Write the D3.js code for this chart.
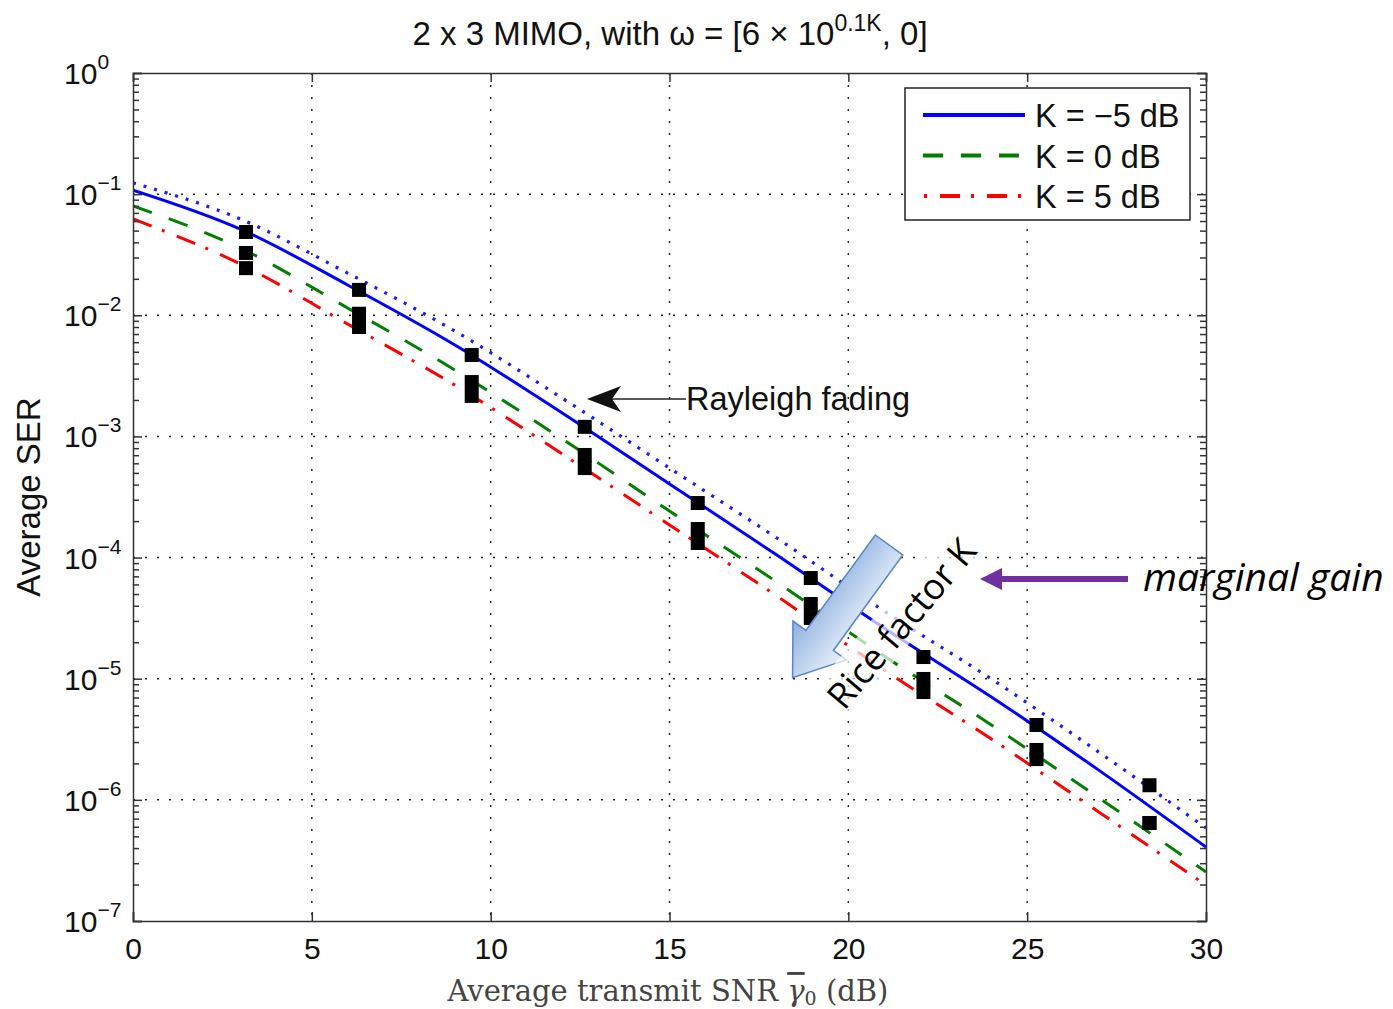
<!DOCTYPE html>
<meta charset="utf-8">
<head>
  <style>
    body { margin: 0; background: #fff; }
    text { font-family: 'Liberation Sans', Arial, sans-serif; fill: #111; }
  </style>
  <script src="https://d3js.org/d3.v7.min.js"></script>
</head>
<body>
  <div id="my_dataviz"></div>
  <script>

    // Analytical curves
    const snr = [0, 3, 6, 9, 12, 15, 18, 21, 24, 27, 30];
    const serKm5 = [1.08e-1, 5.15e-2, 1.78e-2, 5.69e-3, 1.56e-3, 4.05e-4, 1.05e-4, 2.62e-5, 7.06e-6, 1.76e-6, 4.08e-7];
    const serK0 = [7.98e-2, 3.59e-2, 1.15e-2, 3.53e-3, 9.53e-4, 2.42e-4, 6.28e-5, 1.54e-5, 4.15e-6, 1.04e-6, 2.54e-7];
    const serK5 = [6.24e-2, 2.65e-2, 8.47e-3, 2.65e-3, 7.16e-4, 1.86e-4, 4.82e-5, 1.18e-5, 3.18e-6, 7.94e-7, 1.98e-7];
    const serRayleigh = [1.24e-1, 6.24e-2, 2.23e-2, 7.41e-3, 2.07e-3, 5.48e-4, 1.45e-4, 3.62e-5, 9.95e-6, 2.48e-6, 5.86e-7];

    // Simulation points (black squares)
    const simSnr = [3.16, 6.32, 9.47, 12.63, 15.79, 18.95, 22.1, 25.26, 28.42];
    const simKm5 = [4.87e-2, 1.62e-2, 4.70e-3, 1.20e-3, 2.82e-4, 6.78e-5, 1.51e-5, 4.15e-6, 1.32e-6];
    const simK0 = [3.27e-2, 1.03e-2, 2.81e-3, 7.03e-4, 1.72e-4, 4.14e-5, 9.95e-6, 2.58e-6, 6.44e-7];
    const simK5 = [2.45e-2, 8.0e-3, 2.16e-3, 5.48e-4, 1.32e-4, 3.17e-5, 7.76e-6, 2.17e-6, 6.44e-7];

    const xTicks = [0, 5, 10, 15, 20, 25, 30];
    const yExponents = [0, -1, -2, -3, -4, -5, -6, -7];
    const legendLabels = ["K = \u22125 dB", "K = 0 dB", "K = 5 dB"];

    const W = 1393, H = 1009;
    const margin = { top: 73, right: 187, bottom: 88, left: 133 },
      width = W - margin.left - margin.right,
      height = H - margin.top - margin.bottom;

    const root = d3.select("#my_dataviz").append("svg")
      .attr("width", W).attr("height", H);

    const defs = root.append("defs");
    defs.append("clipPath").attr("id", "plotclip")
      .append("rect").attr("width", width).attr("height", height);
    const grad = defs.append("linearGradient").attr("id", "bluegrad")
      .attr("x1", "0").attr("y1", "0").attr("x2", "0").attr("y2", "1");
    grad.append("stop").attr("offset", "0%").attr("stop-color", "#eef4fc");
    grad.append("stop").attr("offset", "100%").attr("stop-color", "#8db0df");

    const svg = root.append("g")
      .attr("transform", `translate(${margin.left},${margin.top})`);

    const x = d3.scaleLinear().domain([0, 30]).range([0, width]);
    const y = d3.scaleLog().domain([1e-7, 1]).range([height, 0]);

    // grid
    const gridStyle = g => g.attr("stroke", "#222").attr("stroke-width", 1.5)
      .attr("stroke-dasharray", "2,10").attr("fill", "none");
    svg.append("g").call(gridStyle)
      .selectAll("line").data(xTicks.slice(1, -1)).join("line")
      .attr("x1", d => x(d)).attr("x2", d => x(d))
      .attr("y1", 0).attr("y2", height);
    svg.append("g").call(gridStyle)
      .selectAll("line").data(yExponents.slice(1, -1)).join("line")
      .attr("y1", d => y(Math.pow(10, d))).attr("y2", d => y(Math.pow(10, d)))
      .attr("x1", 0).attr("x2", width);

    // curves
    const series = [
      { name: "ray", data: serRayleigh, color: "#1a1aff", dash: "3,8", w: 3.2 },
      { name: "k5", data: serK5, color: "#ff0000", dash: "20,11,3,13", w: 3 },
      { name: "k0", data: serK0, color: "#007f00", dash: "20,18", w: 3 },
      { name: "km5", data: serKm5, color: "#0000ff", dash: null, w: 3 }
    ];
    const line = d3.line().x(d => x(d[0])).y(d => y(d[1])).curve(d3.curveMonotoneX);
    const plot = svg.append("g").attr("clip-path", "url(#plotclip)");
    series.forEach(s => {
      plot.append("path")
        .datum(snr.map((v, i) => [v, s.data[i]]))
        .attr("d", line)
        .attr("fill", "none")
        .attr("stroke", s.color)
        .attr("stroke-width", s.w)
        .attr("stroke-dasharray", s.dash);
    });

    // simulation squares
    const sq = 14;
    [simKm5, simK0, simK5].forEach(arr => {
      plot.append("g").selectAll("rect")
        .data(simSnr.map((v, i) => [v, arr[i]])).join("rect")
        .attr("x", d => x(d[0]) - sq / 2).attr("y", d => y(d[1]) - sq / 2)
        .attr("width", sq).attr("height", sq)
        .attr("fill", "#000");
    });

    // axes (ticks inside, on all four sides)
    const axisColor = "#333";
    const xb = svg.append("g").attr("transform", `translate(0,${height})`)
      .call(d3.axisBottom(x).tickValues(xTicks).tickSize(-9).tickPadding(17).tickFormat(d3.format("d")));
    svg.append("g")
      .call(d3.axisTop(x).tickValues(xTicks).tickSize(-9).tickFormat(""));
    const minorVals = [];
    for (let e = -7; e < 0; e++) for (let m = 2; m <= 9; m++) minorVals.push(m * Math.pow(10, e));
    svg.append("g").call(d3.axisLeft(y).tickValues(yExponents.map(e => Math.pow(10, e))).tickSize(-9).tickFormat(""));
    svg.append("g").attr("transform", `translate(${width},0)`)
      .call(d3.axisRight(y).tickValues(yExponents.map(e => Math.pow(10, e))).tickSize(-9).tickFormat(""));
    svg.append("g").call(d3.axisLeft(y).tickValues(minorVals).tickSize(-6).tickFormat(""))
      .select(".domain").remove();
    svg.append("g").attr("transform", `translate(${width},0)`)
      .call(d3.axisRight(y).tickValues(minorVals).tickSize(-6).tickFormat(""))
      .select(".domain").remove();
    svg.selectAll(".domain, .tick line").attr("stroke", axisColor).attr("stroke-width", 1.5);
    xb.selectAll("text").style("font-size", "30px").attr("fill", "#111")
      .style("font-family", "'Liberation Sans', Arial, sans-serif");

    // y tick labels: 10^e
    const ylab = svg.append("g");
    yExponents.forEach(e => {
      const t = ylab.append("text")
        .attr("x", -69).attr("y", y(Math.pow(10, e)) + 11)
        .style("font-size", "30px");
      t.append("tspan").text("10");
      t.append("tspan").attr("dy", -15).style("font-size", "21px")
        .text(e === 0 ? "0" : "\u2212" + (-e));
    });

    // title
    const title = root.append("text")
      .attr("x", 670).attr("y", 45).attr("text-anchor", "middle")
      .style("font-size", "33px");
    title.append("tspan").text("2 x 3 MIMO, with \u03c9 = [6 \u00d7 10");
    title.append("tspan").attr("dy", -14).style("font-size", "23px").text("0.1K");
    title.append("tspan").attr("dy", 14).text(", 0]");

    // axis titles
    root.append("text")
      .attr("transform", "translate(40,497) rotate(-90)")
      .attr("text-anchor", "middle")
      .style("font-size", "33px")
      .text("Average SER");
    const xl = root.append("text")
      .attr("x", 668).attr("y", 1001).attr("text-anchor", "middle")
      .style("font-family", "'DejaVu Serif', 'Liberation Serif', serif")
      .style("font-size", "29px").style("fill", "#444");
    xl.append("tspan").text("Average transmit SNR ");
    xl.append("tspan").style("text-decoration", "overline").style("font-style", "italic").text("\u03b3");
    xl.append("tspan").attr("dy", 4).style("font-size", "19px").text("0");
    xl.append("tspan").attr("dy", -4).text(" (dB)");

    // legend
    const lg = svg.append("g").attr("transform", `translate(${905 - margin.left},${88 - margin.top})`);
    lg.append("rect").attr("width", 285).attr("height", 132)
      .attr("fill", "#fff").attr("stroke", "#222").attr("stroke-width", 1.5);
    const legSeries = [series[3], series[2], series[1]];
    legSeries.forEach((s, i) => {
      const yy = 27 + i * 40.5;
      lg.append("line").attr("x1", 18).attr("x2", 120).attr("y1", yy).attr("y2", yy)
        .attr("stroke", s.color).attr("stroke-width", 4)
        .attr("stroke-dasharray", s.name === "k5" ? "0,1,3,13,20,11,3,13,20,11,3,13" : s.dash);
      lg.append("text").attr("x", 130).attr("y", yy + 12)
        .style("font-size", "32.5px").text(legendLabels[i]);
    });

    // Rayleigh fading annotation
    root.append("line").attr("x1", 612).attr("x2", 686).attr("y1", 399).attr("y2", 399)
      .attr("stroke", "#222").attr("stroke-width", 1.3);
    root.append("path").attr("d", "M587,399 L621,386 L612,399 L621,412 Z").attr("fill", "#111");
    root.append("text").attr("x", 686).attr("y", 410).style("font-size", "32.5px").text("Rayleigh fading");

    // Rice factor block arrow (pointing down-left)
    const arr = root.append("g").attr("transform", "translate(889,545) rotate(126)");
    arr.append("path")
      .attr("d", "M0,-17 L118,-17 L118,-33 L164,0 L118,33 L118,17 L0,17 Z")
      .attr("fill", "url(#bluegrad)")
      .attr("stroke", "#5a86c2").attr("stroke-width", 1.5);

    // faded band under the rotated label
    const rl = root.append("g").attr("transform", "translate(902,624) rotate(-50)");
    rl.append("rect").attr("x", -118).attr("y", -26).attr("width", 236).attr("height", 44)
      .attr("fill", "#fff").attr("opacity", 0.7);
    rl.append("text").attr("text-anchor", "middle").attr("y", 12)
      .style("font-family", "'Open Sans', 'Noto Sans', sans-serif")
      .style("font-size", "36px").style("fill", "#000").text("Rice factor K");

    // marginal gain arrow
    root.append("line").attr("x1", 998).attr("x2", 1128).attr("y1", 579).attr("y2", 579)
      .attr("stroke", "#7030a0").attr("stroke-width", 6);
    root.append("path").attr("d", "M980,579 L1002,568 L1002,590 Z").attr("fill", "#7030a0");
    root.append("text").attr("x", 1143).attr("y", 591)
      .style("font-family", "'Open Sans', 'Noto Sans', sans-serif")
      .style("font-style", "italic").style("font-size", "39px").style("fill", "#000")
      .text("marginal gain");

  </script>
</body>
